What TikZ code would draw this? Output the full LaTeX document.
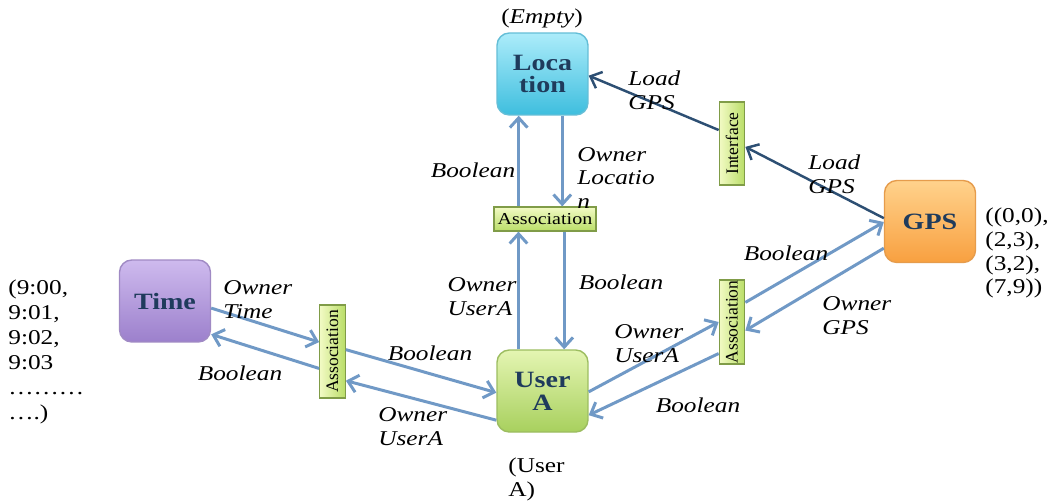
\documentclass[tikz,border=0pt]{standalone}
\usepackage{fontspec}
\setmainfont{Liberation Serif}[FakeStretch=1.2]
\newfontfamily\narrowserif{Liberation Serif}
\usetikzlibrary{arrows.meta,calc}

\definecolor{boxtext}{RGB}{31,59,92}
\definecolor{flow}{RGB}{112,153,198}
\definecolor{flowdark}{RGB}{45,79,115}
\definecolor{loctop}{RGB}{172,236,250}
\definecolor{locbot}{RGB}{62,190,222}
\definecolor{locedge}{RGB}{100,190,215}
\definecolor{timetop}{RGB}{206,186,238}
\definecolor{timebot}{RGB}{156,128,204}
\definecolor{timeedge}{RGB}{160,138,196}
\definecolor{usrtop}{RGB}{228,245,178}
\definecolor{usrbot}{RGB}{168,208,94}
\definecolor{usredge}{RGB}{156,189,96}
\definecolor{gpstop}{RGB}{255,210,140}
\definecolor{gpsbot}{RGB}{248,160,64}
\definecolor{gpsedge}{RGB}{230,156,76}
\definecolor{astop}{RGB}{242,250,196}
\definecolor{asbot}{RGB}{186,222,104}
\definecolor{asedge}{RGB}{128,156,72}

\tikzset{
  bigbox/.style={rounded corners=7pt, minimum width=1.82cm, minimum height=1.64cm,
    inner sep=0pt, align=center, text=boxtext, line width=0.8pt,
    font=\fontsize{13.3}{13}\selectfont\bfseries},
  locbox/.style={bigbox, draw=locedge, top color=loctop, bottom color=locbot},
  timebox/.style={bigbox, draw=timeedge, top color=timetop, bottom color=timebot},
  usrbox/.style={bigbox, draw=usredge, top color=usrtop, bottom color=usrbot},
  gpsbox/.style={bigbox, draw=gpsedge, top color=gpstop, bottom color=gpsbot},
  hbar/.style={draw=asedge, line width=0.7pt, inner sep=0pt, top color=astop, bottom color=asbot,
    minimum width=2.04cm, minimum height=0.48cm, font=\fontsize{9.5}{10}\selectfont},
  vbar/.style={draw=asedge, line width=0.7pt, inner sep=0pt, left color=astop, right color=asbot,
    minimum width=0.51cm, font=\narrowserif\fontsize{10}{10}\selectfont},
  arr/.style={draw=flow, line width=1.7pt, -{Straight Barb[length=5.5pt,width=10pt]}},
  darr/.style={draw=flowdark, line width=1.4pt, -{Straight Barb[length=5.5pt,width=10pt]}},
  lab/.style={font=\fontsize{12}{13.6}\selectfont\itshape, align=left, inner sep=0pt},
  plain/.style={font=\fontsize{12}{13.6}\selectfont, align=left, inner sep=0pt}
}

\begin{document}
\begin{tikzpicture}[x=0.02cm, y=-0.02cm]
\useasboundingbox (0,0) rectangle (1055,501);
\fill[white] (0,0) rectangle (1055,501);

% main entities
\node[locbox]  (loc)  at (542.5,74)  {Loca\\tion};
\node[timebox] (time) at (165,301)   {Time};
\node[usrbox]  (usr)  at (542.5,391) {User\\A};
\node[gpsbox]  (gps)  at (930,221.5) {GPS};

% connecting bars
\node[hbar] (assocM) at (545,219) {Association};
\node[vbar, minimum height=1.86cm] (assocL) at (332.5,351.5) {\rotatebox{90}{Association}};
\node[vbar, minimum height=1.68cm] (assocR) at (732,322) {\rotatebox{90}{Association}};
\node[vbar, minimum height=1.66cm] (iface) at (732,143.5) {\rotatebox{90}{Interface}};

% Location <-> Association <-> User A
\coordinate (m1) at ($(assocM.north west)!0.245!(assocM.north east)$);
\draw[arr] (m1) -- (m1 |- loc.south);
\coordinate (m2) at ($(loc.south west)!0.714!(loc.south east)$);
\draw[arr] (m2) -- (m2 |- assocM.north);
\coordinate (m3) at ($(usr.north west)!0.24!(usr.north east)$);
\draw[arr] (m3) -- (m3 |- assocM.south);
\coordinate (m4) at ($(assocM.south west)!0.686!(assocM.south east)$);
\draw[arr] (m4) -- (m4 |- usr.north);

% Time <-> Association <-> User A
\draw[arr] ($(time.north east)!0.585!(time.south east)$) -- ($(assocL.north west)!0.40!(assocL.south west)$);
\draw[arr] ($(assocL.north west)!0.68!(assocL.south west)$) -- ($(time.north east)!0.90!(time.south east)$);
\draw[arr] ($(assocL.north east)!0.48!(assocL.south east)$) -- ($(usr.north west)!0.52!(usr.south west)$);
\draw[arr] ($(usr.north west)!0.85!(usr.south west)$) -- ($(assocL.north east)!0.81!(assocL.south east)$);

% User A <-> Association <-> GPS
\draw[arr] ($(usr.north east)!0.51!(usr.south east)$) -- ($(assocR.north west)!0.5!(assocR.south west)$);
\draw[arr] ($(assocR.north west)!0.87!(assocR.south west)$) -- ($(usr.north east)!0.79!(usr.south east)$);
\draw[arr] ($(assocR.north east)!0.27!(assocR.south east)$) -- ($(gps.north west)!0.506!(gps.south west)$);
\draw[arr] ($(gps.north west)!0.82!(gps.south west)$) -- ($(assocR.north east)!0.6!(assocR.south east)$);

% GPS -> Interface -> Location
\draw[darr] ($(gps.north west)!0.46!(gps.south west)$) -- ($(iface.north east)!0.54!(iface.south east)$);
\draw[darr] ($(iface.north west)!0.34!(iface.south west)$) -- ($(loc.north east)!0.52!(loc.south east)$);

% connector labels
\node[lab, anchor=west] (l1) at (628,90)  {Load\\GPS};
\node[lab, anchor=west] (l2) at (808,174) {Load\\GPS};
\node[lab] (l3) at (473,170) {Boolean};
\node[lab, anchor=west] (l4) at (577,178) {Owner\\Locatio\\n};
\node[lab] (l5) at (482,297) {Owner\\UserA};
\node[lab] (l6) at (621,282) {Boolean};
\node[lab, anchor=west] (l7) at (223,300) {Owner\\Time};
\node[lab] (l8) at (430,353) {Boolean};
\node[lab] (l9) at (240,373) {Boolean};
\node[lab, anchor=west] (l10) at (378,427) {Owner\\UserA};
\node[lab, anchor=west] (l11) at (614,344) {Owner\\UserA};
\node[lab] (l12) at (698,405) {Boolean};
\node[lab] (l13) at (786,253) {Boolean};
\node[lab, anchor=west] (l14) at (822,316) {Owner\\GPS};

% value annotations
\node[plain] (vloc) at (542,18) {(\textit{Empty})};
\node[plain, anchor=west] (vusr) at (508,479) {(User\\A)};
\node[plain, anchor=west] (vgps) at (985,253) {((0,0),\\(2,3),\\(3,2),\\(7,9))};
\node[plain, anchor=west, font=\fontsize{12}{14.2}\selectfont] (vtime) at (8,352) {(9:00,\\9:01,\\9:02,\\9:03\\………\\….)};
\end{tikzpicture}
\end{document}
